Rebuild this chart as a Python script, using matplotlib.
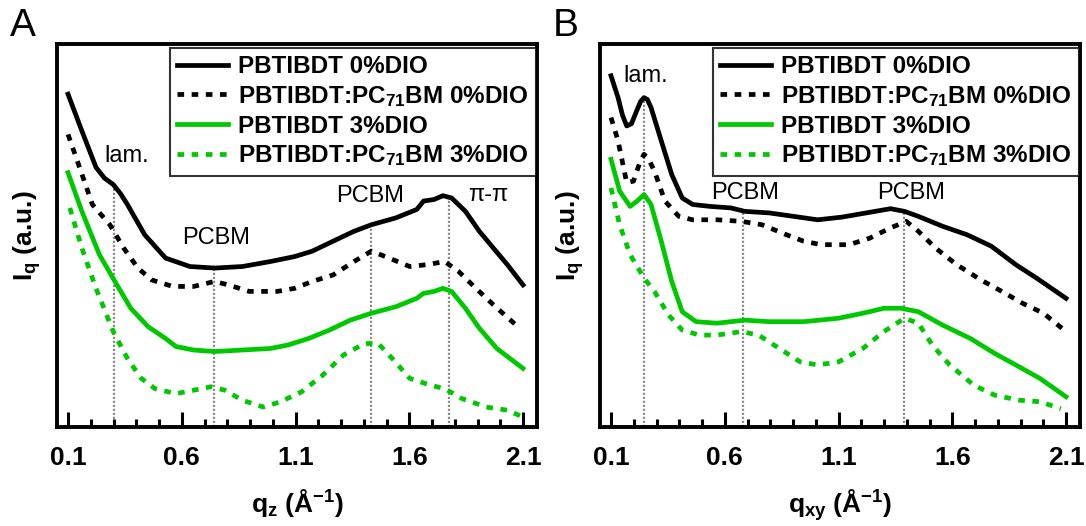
import numpy as np
import matplotlib.pyplot as plt
from matplotlib.ticker import MultipleLocator

plt.rcParams["font.family"] = ["Liberation Sans", "DejaVu Sans"]
plt.rcParams["mathtext.fontset"] = "custom"
plt.rcParams["mathtext.rm"] = "Liberation Sans:bold"
plt.rcParams["mathtext.bf"] = "Liberation Sans:bold"
plt.rcParams["mathtext.it"] = "Liberation Sans:bold"

GREEN = "#00c800"

# ---- panel A: out-of-plane (q_z) line cuts ----
qz_neat0 = [0.10, 0.161, 0.223, 0.260, 0.299, 0.330, 0.361, 0.437, 0.529, 0.636, 0.744, 0.866, 0.989, 1.096, 1.173,
            1.265, 1.357, 1.433, 1.541, 1.633, 1.663, 1.709, 1.748, 1.786, 1.847, 1.908, 1.970, 2.031, 2.100]
Iz_neat0 = [86.9, 77.3, 67.8, 65.0, 63.3, 61.0, 58.1, 50.2, 44.1, 41.9, 41.5, 41.9, 43.2, 44.5, 45.9,
            48.5, 51.1, 52.8, 54.6, 56.8, 59.0, 59.4, 60.4, 59.8, 56.3, 51.1, 46.7, 42.4, 37.1]

qz_blend0 = [0.10, 0.146, 0.207, 0.284, 0.345, 0.407, 0.468, 0.560, 0.652, 0.744, 0.805, 0.897, 1.020,
             1.096, 1.173, 1.265, 1.357, 1.433, 1.495, 1.602, 1.679, 1.756, 1.817, 1.893, 1.970, 2.077]
Iz_blend0 = [76.4, 68.6, 58.1, 52.8, 46.7, 41.5, 38.4, 36.7, 36.7, 38.0, 37.1, 35.4, 35.4,
             36.2, 38.0, 39.7, 43.2, 45.9, 44.5, 41.9, 42.4, 43.2, 40.6, 36.2, 31.9, 26.2]

qz_neat3 = [0.10, 0.161, 0.238, 0.315, 0.376, 0.452, 0.529, 0.575, 0.652, 0.744, 0.866, 0.989, 1.066,
            1.157, 1.249, 1.341, 1.433, 1.541, 1.633, 1.663, 1.709, 1.748, 1.786, 1.847, 1.908, 1.985, 2.100]
Iz_neat3 = [66.4, 56.3, 45.0, 37.1, 31.0, 26.2, 23.1, 21.0, 20.1, 19.7, 20.1, 20.5, 21.4,
            23.1, 25.3, 27.9, 29.7, 31.4, 33.6, 34.9, 35.4, 36.2, 35.4, 31.0, 25.8, 20.5, 15.3]

qz_blend3 = [0.108, 0.161, 0.223, 0.299, 0.361, 0.422, 0.483, 0.575, 0.652, 0.728, 0.790, 0.866, 0.958,
             1.035, 1.127, 1.219, 1.311, 1.403, 1.464, 1.525, 1.602, 1.694, 1.756, 1.832, 1.939, 2.031, 2.100]
Iz_blend3 = [57.2, 46.7, 36.2, 24.9, 17.9, 12.7, 10.0, 8.7, 9.6, 10.5, 9.6, 7.0, 5.2,
             6.6, 9.2, 13.5, 18.8, 21.8, 21.8, 17.9, 12.7, 10.9, 10.0, 7.4, 5.2, 4.4, 2.6]

qz_peaks = [0.30, 0.74, 1.43, 1.775]

# ---- panel B: in-plane (q_xy) line cuts ----
qxy_neat0 = [0.100, 0.131, 0.150, 0.169, 0.190, 0.207, 0.230, 0.245, 0.260, 0.276, 0.321, 0.367, 0.413, 0.459, 0.535,
             0.627, 0.688, 0.795, 0.902, 1.008, 1.115, 1.222, 1.329, 1.390, 1.451, 1.558, 1.665, 1.772, 1.879,
             1.970, 2.100]
Ixy_neat0 = [91.7, 86.0, 81.5, 78.6, 79.2, 81.7, 85.0, 86.0, 85.5, 83.4, 74.7, 65.9, 59.8, 58.1, 57.6,
             57.2, 56.3, 55.9, 55.0, 54.1, 54.8, 55.9, 57.0, 56.3, 55.0, 52.4, 50.2, 47.2, 42.4,
             38.9, 33.6]

qxy_blend0 = [0.100, 0.131, 0.169, 0.199, 0.225, 0.245, 0.265, 0.291, 0.337, 0.398, 0.459, 0.566, 0.673, 0.764,
              0.871, 0.947, 1.024, 1.146, 1.237, 1.329, 1.398, 1.451, 1.527, 1.619, 1.726, 1.818, 1.909, 2.001, 2.092]
Ixy_blend0 = [80.8, 74.7, 63.8, 64.2, 68.8, 71.2, 70.0, 66.8, 59.0, 55.0, 54.1, 54.1, 53.7, 52.8,
              50.2, 48.5, 47.6, 47.6, 49.3, 52.0, 53.7, 51.1, 46.7, 42.4, 38.4, 35.4, 32.3, 29.7, 25.3]

qxy_neat3 = [0.100, 0.138, 0.184, 0.215, 0.245, 0.276, 0.321, 0.367, 0.413, 0.474, 0.566, 0.688, 0.795,
             0.947, 1.100, 1.207, 1.299, 1.375, 1.451, 1.558, 1.680, 1.787, 1.879, 1.985, 2.100]
Ixy_neat3 = [69.9, 61.6, 57.6, 59.0, 60.7, 58.1, 48.5, 38.0, 30.1, 27.5, 27.1, 27.9, 27.5,
             27.5, 28.4, 29.7, 31.0, 31.0, 30.1, 26.6, 23.1, 19.2, 16.2, 12.7, 7.9]

qxy_blend3 = [0.100, 0.138, 0.184, 0.245, 0.291, 0.352, 0.413, 0.489, 0.566, 0.673, 0.749, 0.840, 0.932,
              1.008, 1.100, 1.207, 1.299, 1.390, 1.451, 1.512, 1.589, 1.695, 1.787, 1.894, 1.985, 2.077]
Ixy_blend3 = [62.4, 52.8, 45.0, 38.9, 35.4, 29.3, 25.3, 24.0, 24.0, 24.9, 24.0, 20.5, 17.0,
              16.2, 17.0, 20.5, 24.9, 28.4, 27.1, 21.4, 16.2, 10.9, 8.3, 7.0, 6.6, 4.8]

qxy_peaks = [0.245, 0.68, 1.39]

labels = ["PBTIBDT 0%DIO",
          r"PBTIBDT:PC$_{71}$BM 0%DIO",
          "PBTIBDT 3%DIO",
          r"PBTIBDT:PC$_{71}$BM 3%DIO"]

DASH = (0, (1.4, 1.6))
styles = [("black", "-"), ("black", DASH), (GREEN, "-"), (GREEN, DASH)]

panels = [
    dict(letter="A", xlabel=r"q$_{z}$ (Å$^{-1}$)",
         curves=[(qz_neat0, Iz_neat0), (qz_blend0, Iz_blend0), (qz_neat3, Iz_neat3), (qz_blend3, Iz_blend3)],
         peaks=qz_peaks,
         notes=[("lam.", 0.36, 70.7), ("PCBM", 0.75, 49.3), ("PCBM", 1.43, 60.3), ("π-π", 1.947, 60.7)]),
    dict(letter="B", xlabel=r"q$_{xy}$ (Å$^{-1}$)",
         curves=[(qxy_neat0, Ixy_neat0), (qxy_blend0, Ixy_blend0), (qxy_neat3, Ixy_neat3), (qxy_blend3, Ixy_blend3)],
         peaks=qxy_peaks,
         notes=[("lam.", 0.253, 91.7), ("PCBM", 0.688, 61.0), ("PCBM", 1.42, 61.0)]),
]

fig = plt.figure(figsize=(10.86, 5.26), dpi=100)

for i, p in enumerate(panels):
    left = (57 + 543 * i) / 1086
    ax = fig.add_axes([left, 99 / 526, 480 / 1086, 383 / 526])

    # dotted guides from the baseline up to the top curve
    q_top, I_top = p["curves"][0]
    for qp in p["peaks"]:
        ax.plot([qp, qp], [0, np.interp(qp, q_top, I_top)], color="#8c8c8c",
                lw=1.6, ls=(0, (1, 0.8)), zorder=1)

    for (q, I), (c, ls), lab in zip(p["curves"], styles, labels):
        ax.plot(q, I, color=c, ls=ls, lw=3.4, label=lab, zorder=3)

    for txt, x, y in p["notes"]:
        ax.text(x, y, txt, fontsize=17, ha="center", va="center")

    ax.set_xlim(0.0516, 2.1615)
    ax.set_ylim(0, 100)
    ax.xaxis.set_minor_locator(MultipleLocator(0.1))
    ax.set_xticks([0.1, 0.6, 1.1, 1.6, 2.1])
    ax.set_xticklabels(["0.1", "0.6", "1.1", "1.6", "2.1"], fontsize=19, fontweight="bold")
    ax.tick_params(axis="x", which="major", direction="in", length=11, width=2.2, pad=14)
    ax.tick_params(axis="x", which="minor", direction="in", length=6, width=2.2)
    ax.set_yticks([])
    for s in ax.spines.values():
        s.set_linewidth(2.8)

    ax.set_xlabel(p["xlabel"], fontsize=19, fontweight="bold", labelpad=12)
    ax.set_ylabel(r"I$_{q}$ (a.u.)", fontsize=19, fontweight="bold", labelpad=10)

    leg = ax.legend(loc="upper right", bbox_to_anchor=(0.997, 0.99),
                    prop=dict(weight="bold", size=17.5), frameon=True, fancybox=False,
                    handlelength=2.1, handletextpad=0.4, labelspacing=0.24,
                    borderpad=0.3, borderaxespad=0.0)
    leg.get_frame().set_edgecolor("black")
    leg.get_frame().set_linewidth(1.5)

    fig.text((10 + 543 * i) / 1086, 1 - 26 / 526, p["letter"], fontsize=28, va="center", ha="left")

fig.savefig("out.png", dpi=100)
